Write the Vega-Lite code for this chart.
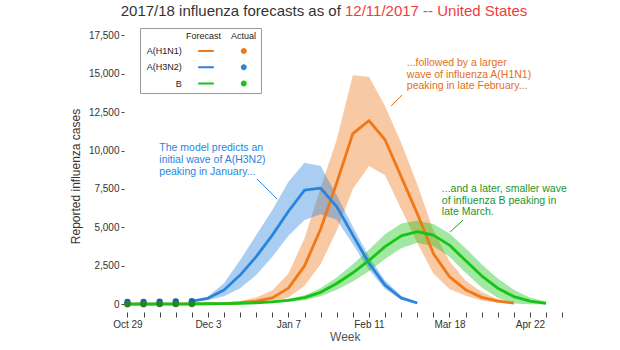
{
  "$schema": "https://vega.github.io/schema/vega-lite/v6.json",
  "width": 441.6,
  "height": 300,
  "autosize": {"type": "none"},
  "padding": {"left": 124, "top": 10, "right": 54.4, "bottom": 40},
  "background": "white",
  "config": {"view": {"stroke": null}, "font": "Liberation Sans"},
  "data": {
    "format": {"parse": {"week": "date:'%Y-%m-%d'"}},
    "values": [
      {"week": "2017-10-29", "series": "A(H1N1)", "median": 10, "observed": 10},
      {"week": "2017-11-05", "series": "A(H1N1)", "median": 10, "observed": 10},
      {"week": "2017-11-12", "series": "A(H1N1)", "median": 15, "observed": 15},
      {"week": "2017-11-19", "series": "A(H1N1)", "median": 15, "observed": 15},
      {"week": "2017-11-26", "series": "A(H1N1)", "median": 20, "lower": 20, "upper": 20, "observed": 20},
      {"week": "2017-12-03", "series": "A(H1N1)", "median": 30, "lower": 15, "upper": 50},
      {"week": "2017-12-10", "series": "A(H1N1)", "median": 50, "lower": 25, "upper": 100},
      {"week": "2017-12-17", "series": "A(H1N1)", "median": 100, "lower": 45, "upper": 220},
      {"week": "2017-12-24", "series": "A(H1N1)", "median": 200, "lower": 90, "upper": 450},
      {"week": "2017-12-31", "series": "A(H1N1)", "median": 420, "lower": 180, "upper": 900},
      {"week": "2018-01-07", "series": "A(H1N1)", "median": 1050, "lower": 450, "upper": 2000},
      {"week": "2018-01-14", "series": "A(H1N1)", "median": 2500, "lower": 1200, "upper": 4300},
      {"week": "2018-01-21", "series": "A(H1N1)", "median": 4900, "lower": 2600, "upper": 7600},
      {"week": "2018-01-28", "series": "A(H1N1)", "median": 7900, "lower": 4800, "upper": 10700},
      {"week": "2018-02-04", "series": "A(H1N1)", "median": 11100, "lower": 7500, "upper": 14900},
      {"week": "2018-02-11", "series": "A(H1N1)", "median": 11950, "lower": 9000, "upper": 14800},
      {"week": "2018-02-18", "series": "A(H1N1)", "median": 10700, "lower": 8400, "upper": 12900},
      {"week": "2018-02-25", "series": "A(H1N1)", "median": 8300, "lower": 6200, "upper": 10500},
      {"week": "2018-03-04", "series": "A(H1N1)", "median": 5900, "lower": 4000, "upper": 7800},
      {"week": "2018-03-11", "series": "A(H1N1)", "median": 3300, "lower": 2000, "upper": 4800},
      {"week": "2018-03-18", "series": "A(H1N1)", "median": 1800, "lower": 1000, "upper": 2800},
      {"week": "2018-03-25", "series": "A(H1N1)", "median": 950, "lower": 550, "upper": 1550},
      {"week": "2018-04-01", "series": "A(H1N1)", "median": 450, "lower": 250, "upper": 800},
      {"week": "2018-04-08", "series": "A(H1N1)", "median": 200, "lower": 100, "upper": 350},
      {"week": "2018-04-15", "series": "A(H1N1)", "median": 80, "lower": 30, "upper": 150},
      {"week": "2017-10-29", "series": "A(H3N2)", "observed": 150},
      {"week": "2017-11-05", "series": "A(H3N2)", "observed": 160},
      {"week": "2017-11-12", "series": "A(H3N2)", "observed": 170},
      {"week": "2017-11-19", "series": "A(H3N2)", "observed": 180},
      {"week": "2017-11-26", "series": "A(H3N2)", "median": 200, "lower": 200, "upper": 200, "observed": 200},
      {"week": "2017-12-03", "series": "A(H3N2)", "median": 390, "lower": 280, "upper": 500},
      {"week": "2017-12-10", "series": "A(H3N2)", "median": 930, "lower": 520, "upper": 1370},
      {"week": "2017-12-17", "series": "A(H3N2)", "median": 1900, "lower": 1050, "upper": 2880},
      {"week": "2017-12-24", "series": "A(H3N2)", "median": 3100, "lower": 1900, "upper": 4500},
      {"week": "2017-12-31", "series": "A(H3N2)", "median": 4500, "lower": 3100, "upper": 6130},
      {"week": "2018-01-07", "series": "A(H3N2)", "median": 6050, "lower": 4450, "upper": 7970},
      {"week": "2018-01-14", "series": "A(H3N2)", "median": 7430, "lower": 5480, "upper": 9200},
      {"week": "2018-01-21", "series": "A(H3N2)", "median": 7550, "lower": 5850, "upper": 9000},
      {"week": "2018-01-28", "series": "A(H3N2)", "median": 6350, "lower": 5500, "upper": 7100},
      {"week": "2018-02-04", "series": "A(H3N2)", "median": 4500, "lower": 3900, "upper": 5050},
      {"week": "2018-02-11", "series": "A(H3N2)", "median": 2670, "lower": 2250, "upper": 3100},
      {"week": "2018-02-18", "series": "A(H3N2)", "median": 1250, "lower": 1000, "upper": 1550},
      {"week": "2018-02-25", "series": "A(H3N2)", "median": 410, "lower": 300, "upper": 560},
      {"week": "2018-03-04", "series": "A(H3N2)", "median": 85, "lower": 30, "upper": 150},
      {"week": "2017-10-29", "series": "B", "median": 20, "observed": 20},
      {"week": "2017-11-05", "series": "B", "median": 20, "observed": 20},
      {"week": "2017-11-12", "series": "B", "median": 25, "observed": 25},
      {"week": "2017-11-19", "series": "B", "median": 25, "observed": 25},
      {"week": "2017-11-26", "series": "B", "median": 30, "lower": 30, "upper": 30, "observed": 30},
      {"week": "2017-12-03", "series": "B", "median": 40, "lower": 30, "upper": 50},
      {"week": "2017-12-10", "series": "B", "median": 50, "lower": 35, "upper": 65},
      {"week": "2017-12-17", "series": "B", "median": 65, "lower": 40, "upper": 90},
      {"week": "2017-12-24", "series": "B", "median": 100, "lower": 60, "upper": 140},
      {"week": "2017-12-31", "series": "B", "median": 160, "lower": 100, "upper": 220},
      {"week": "2018-01-07", "series": "B", "median": 260, "lower": 160, "upper": 360},
      {"week": "2018-01-14", "series": "B", "median": 430, "lower": 270, "upper": 590},
      {"week": "2018-01-21", "series": "B", "median": 780, "lower": 520, "upper": 1040},
      {"week": "2018-01-28", "series": "B", "median": 1350, "lower": 950, "upper": 1750},
      {"week": "2018-02-04", "series": "B", "median": 2050, "lower": 1490, "upper": 2610},
      {"week": "2018-02-11", "series": "B", "median": 2850, "lower": 2150, "upper": 3550},
      {"week": "2018-02-18", "series": "B", "median": 3750, "lower": 2950, "upper": 4550},
      {"week": "2018-02-25", "series": "B", "median": 4450, "lower": 3650, "upper": 5250},
      {"week": "2018-03-04", "series": "B", "median": 4720, "lower": 4000, "upper": 5440},
      {"week": "2018-03-11", "series": "B", "median": 4500, "lower": 3780, "upper": 5220},
      {"week": "2018-03-18", "series": "B", "median": 3850, "lower": 3100, "upper": 4600},
      {"week": "2018-03-25", "series": "B", "median": 2850, "lower": 2050, "upper": 3650},
      {"week": "2018-04-01", "series": "B", "median": 1850, "lower": 1100, "upper": 2600},
      {"week": "2018-04-08", "series": "B", "median": 1050, "lower": 430, "upper": 1670},
      {"week": "2018-04-15", "series": "B", "median": 500, "lower": 50, "upper": 950},
      {"week": "2018-04-22", "series": "B", "median": 200, "lower": 0, "upper": 450},
      {"week": "2018-04-29", "series": "B", "median": 60, "lower": 0, "upper": 180}
    ]
  },
  "encoding": {
    "x": {
      "field": "week", "type": "temporal",
      "scale": {"domain": [{"year": 2017, "month": 10, "date": 27, "hours": 12}, {"year": 2018, "month": 5, "date": 7, "hours": 12}]},
      "axis": {
        "title": "Week", "titleFontSize": 12, "titleFontWeight": "normal", "titleColor": "#555", "titlePadding": 2,
        "labelFontSize": 10, "labelColor": "#333", "labelPadding": 2, "tickSize": 5, "tickColor": "#444",
        "domain": false, "grid": false, "offset": 2,
        "tickCount": {"interval": "week", "step": 1},
        "labelExpr": "round((datum.value - datetime(2017, 9, 29)) / 604800000) % 5 == 0 ? timeFormat(datum.value, '%b %-d') : ''",
        "labelOverlap": false, "labelFlush": false
      }
    }
  },
  "layer": [
    {
      "transform": [{"filter": "isValid(datum.lower)"}],
      "mark": {"type": "area", "opacity": 0.4},
      "encoding": {
        "y": {"field": "lower", "type": "quantitative", "stack": null,
          "scale": {"domain": [-371, 19140], "nice": false, "zero": false},
          "axis": {"title": "Reported influenza cases", "values": [0, 2500, 5000, 7500, 10000, 12500, 15000, 17500], "format": ",.0f", "titleFontSize": 12, "titleFontWeight": "normal", "titleColor": "#333", "titlePadding": 6, "titleY": 166, "labelFontSize": 10, "labelColor": "#333", "labelPadding": 2, "tickSize": 3, "tickColor": "#444", "domain": false, "grid": false}},
        "y2": {"field": "upper"},
        "color": {"field": "series", "type": "nominal",
          "scale": {"domain": ["A(H1N1)", "A(H3N2)", "B"], "range": ["#f07818", "#2a84dc", "#16c416"]},
          "legend": {
            "orient": "none", "legendX": 16, "legendY": 18,
            "title": "Forecast\u00a0\u00a0\u00a0\u00a0Actual", "titleAnchor": "end",
            "titleFontSize": 9, "titleFontWeight": "normal", "titleColor": "#222", "titlePadding": 5.5, "titleLimit": 300,
            "labelFontSize": 9, "labelColor": "#222", "labelAlign": "right", "labelOffset": -28.8, "labelLimit": 100,
            "symbolType": "M-1.95,-0.25H1.95V0.25H-1.95ZM10.2,0A0.75,0.75,0,1,1,8.7,0A0.75,0.75,0,1,1,10.2,0ZM12.6,0",
            "symbolSize": 64, "symbolStrokeWidth": 0, "symbolOffset": 57.5, "symbolOpacity": 1,
            "rowPadding": 6.3, "padding": 4, "strokeColor": "#999", "fillColor": "white"
          }}
      }
    },
    {
      "transform": [{"filter": "isValid(datum.median)"}],
      "mark": {"type": "line", "strokeWidth": 2.8, "strokeJoin": "round"},
      "encoding": {
        "y": {"field": "median", "type": "quantitative",
          "scale": {"domain": [-371, 19140], "nice": false, "zero": false},
          "axis": {"title": "Reported influenza cases", "values": [0, 2500, 5000, 7500, 10000, 12500, 15000, 17500], "format": ",.0f", "titleFontSize": 12, "titleFontWeight": "normal", "titleColor": "#333", "titlePadding": 6, "titleY": 166, "labelFontSize": 10, "labelColor": "#333", "labelPadding": 2, "tickSize": 3, "tickColor": "#444", "domain": false, "grid": false}},
        "color": {"field": "series", "type": "nominal",
          "scale": {"domain": ["A(H1N1)", "A(H3N2)", "B"], "range": ["#f07818", "#2a84dc", "#16c416"]},
          "legend": null}
      }
    },
    {
      "transform": [{"filter": "isValid(datum.observed)"}],
      "mark": {"type": "point", "filled": true, "shape": "circle", "size": 40, "opacity": 1},
      "encoding": {
        "y": {"field": "observed", "type": "quantitative",
          "scale": {"domain": [-371, 19140], "nice": false, "zero": false},
          "axis": {"title": "Reported influenza cases", "values": [0, 2500, 5000, 7500, 10000, 12500, 15000, 17500], "format": ",.0f", "titleFontSize": 12, "titleFontWeight": "normal", "titleColor": "#333", "titlePadding": 6, "titleY": 166, "labelFontSize": 10, "labelColor": "#333", "labelPadding": 2, "tickSize": 3, "tickColor": "#444", "domain": false, "grid": false}},
        "fill": {"field": "series", "type": "nominal",
          "scale": {"domain": ["A(H1N1)", "A(H3N2)", "B"], "range": ["#b35a12", "#1f5fa8", "#1d8a24"]},
          "legend": null}
      }
    },
    {
      "data": {"format": {"parse": {"week": "date:'%Y-%m-%d %H:%M'"}}, "values": [{"week": "2018-01-29 19:12", "value": 18750, "label": "2017/18 influenza forecasts as of"}]},
      "mark": {"type": "text", "align": "right", "baseline": "alphabetic", "fontSize": 15, "color": "#333"},
      "encoding": {
        "y": {"field": "value", "type": "quantitative",
          "scale": {"domain": [-371, 19140], "nice": false, "zero": false},
          "axis": {"title": "Reported influenza cases", "values": [0, 2500, 5000, 7500, 10000, 12500, 15000, 17500], "format": ",.0f", "titleFontSize": 12, "titleFontWeight": "normal", "titleColor": "#333", "titlePadding": 6, "titleY": 166, "labelFontSize": 10, "labelColor": "#333", "labelPadding": 2, "tickSize": 3, "tickColor": "#444", "domain": false, "grid": false}},
        "text": {"field": "label"}
      }
    },
    {
      "data": {"format": {"parse": {"week": "date:'%Y-%m-%d %H:%M'"}}, "values": [{"week": "2018-01-31 14:00", "value": 18751, "label": "12/11/2017 -- United States"}]},
      "mark": {"type": "text", "align": "left", "baseline": "alphabetic", "fontSize": 15, "color": "#f03c3c"},
      "encoding": {
        "y": {"field": "value", "type": "quantitative",
          "scale": {"domain": [-371, 19140], "nice": false, "zero": false},
          "axis": {"title": "Reported influenza cases", "values": [0, 2500, 5000, 7500, 10000, 12500, 15000, 17500], "format": ",.0f", "titleFontSize": 12, "titleFontWeight": "normal", "titleColor": "#333", "titlePadding": 6, "titleY": 166, "labelFontSize": 10, "labelColor": "#333", "labelPadding": 2, "tickSize": 3, "tickColor": "#444", "domain": false, "grid": false}},
        "text": {"field": "label"}
      }
    },
    {
      "data": {"format": {"parse": {"week": "date:'%Y-%m-%d %H:%M'"}}, "values": [{"week": "2017-11-11 20:24", "value": 9990}]},
      "mark": {"type": "text", "align": "left", "baseline": "alphabetic", "fontSize": 10.5, "lineHeight": 12.2, "lineBreak": "\n", "color": "#2a84dc"},
      "encoding": {
        "y": {"field": "value", "type": "quantitative",
          "scale": {"domain": [-371, 19140], "nice": false, "zero": false},
          "axis": {"title": "Reported influenza cases", "values": [0, 2500, 5000, 7500, 10000, 12500, 15000, 17500], "format": ",.0f", "titleFontSize": 12, "titleFontWeight": "normal", "titleColor": "#333", "titlePadding": 6, "titleY": 166, "labelFontSize": 10, "labelColor": "#333", "labelPadding": 2, "tickSize": 3, "tickColor": "#444", "domain": false, "grid": false}},
        "text": {"value": "The model predicts an\ninitial wave of A(H3N2)\npeaking in January..."}
      }
    },
    {
      "data": {"format": {"parse": {"week": "date:'%Y-%m-%d %H:%M'"}}, "values": [{"week": "2018-02-27 11:17", "value": 15518}]},
      "mark": {"type": "text", "align": "left", "baseline": "alphabetic", "fontSize": 10.5, "lineHeight": 11.9, "lineBreak": "\n", "color": "#e0701a"},
      "encoding": {
        "y": {"field": "value", "type": "quantitative",
          "scale": {"domain": [-371, 19140], "nice": false, "zero": false},
          "axis": {"title": "Reported influenza cases", "values": [0, 2500, 5000, 7500, 10000, 12500, 15000, 17500], "format": ",.0f", "titleFontSize": 12, "titleFontWeight": "normal", "titleColor": "#333", "titlePadding": 6, "titleY": 166, "labelFontSize": 10, "labelColor": "#333", "labelPadding": 2, "tickSize": 3, "tickColor": "#444", "domain": false, "grid": false}},
        "text": {"value": "...followed by a larger\nwave of influenza A(H1N1)\npeaking in late February..."}
      }
    },
    {
      "data": {"format": {"parse": {"week": "date:'%Y-%m-%d %H:%M'"}}, "values": [{"week": "2018-03-14 16:48", "value": 7285}]},
      "mark": {"type": "text", "align": "left", "baseline": "alphabetic", "fontSize": 10.5, "lineHeight": 11.5, "lineBreak": "\n", "color": "#22962a"},
      "encoding": {
        "y": {"field": "value", "type": "quantitative",
          "scale": {"domain": [-371, 19140], "nice": false, "zero": false},
          "axis": {"title": "Reported influenza cases", "values": [0, 2500, 5000, 7500, 10000, 12500, 15000, 17500], "format": ",.0f", "titleFontSize": 12, "titleFontWeight": "normal", "titleColor": "#333", "titlePadding": 6, "titleY": 166, "labelFontSize": 10, "labelColor": "#333", "labelPadding": 2, "tickSize": 3, "tickColor": "#444", "domain": false, "grid": false}},
        "text": {"value": "...and a later, smaller wave\nof influenza B peaking in\nlate March."}
      }
    },
    {
      "data": {"format": {"parse": {"week": "date:'%Y-%m-%d %H:%M'", "week2": "date:'%Y-%m-%d %H:%M'"}},
        "values": [
          {"week": "2017-12-24 08:24", "value": 8150, "week2": "2018-01-02 01:12", "value2": 6849, "series": "A(H3N2)"},
          {"week": "2018-02-25 10:19", "value": 13613, "week2": "2018-02-20 15:22", "value2": 12897, "series": "A(H1N1)"},
          {"week": "2018-03-23 23:00", "value": 5483, "week2": "2018-03-18 07:26", "value2": 4703, "series": "B"}
        ]},
      "mark": {"type": "rule", "strokeWidth": 1},
      "encoding": {
        "x2": {"field": "week2"},
        "y": {"field": "value", "type": "quantitative",
          "scale": {"domain": [-371, 19140], "nice": false, "zero": false},
          "axis": {"title": "Reported influenza cases", "values": [0, 2500, 5000, 7500, 10000, 12500, 15000, 17500], "format": ",.0f", "titleFontSize": 12, "titleFontWeight": "normal", "titleColor": "#333", "titlePadding": 6, "titleY": 166, "labelFontSize": 10, "labelColor": "#333", "labelPadding": 2, "tickSize": 3, "tickColor": "#444", "domain": false, "grid": false}},
        "y2": {"field": "value2"},
        "stroke": {"field": "series", "type": "nominal",
          "scale": {"domain": ["A(H1N1)", "A(H3N2)", "B"], "range": ["#e0701a", "#2a84dc", "#22962a"]},
          "legend": null}
      }
    }
  ]
}
